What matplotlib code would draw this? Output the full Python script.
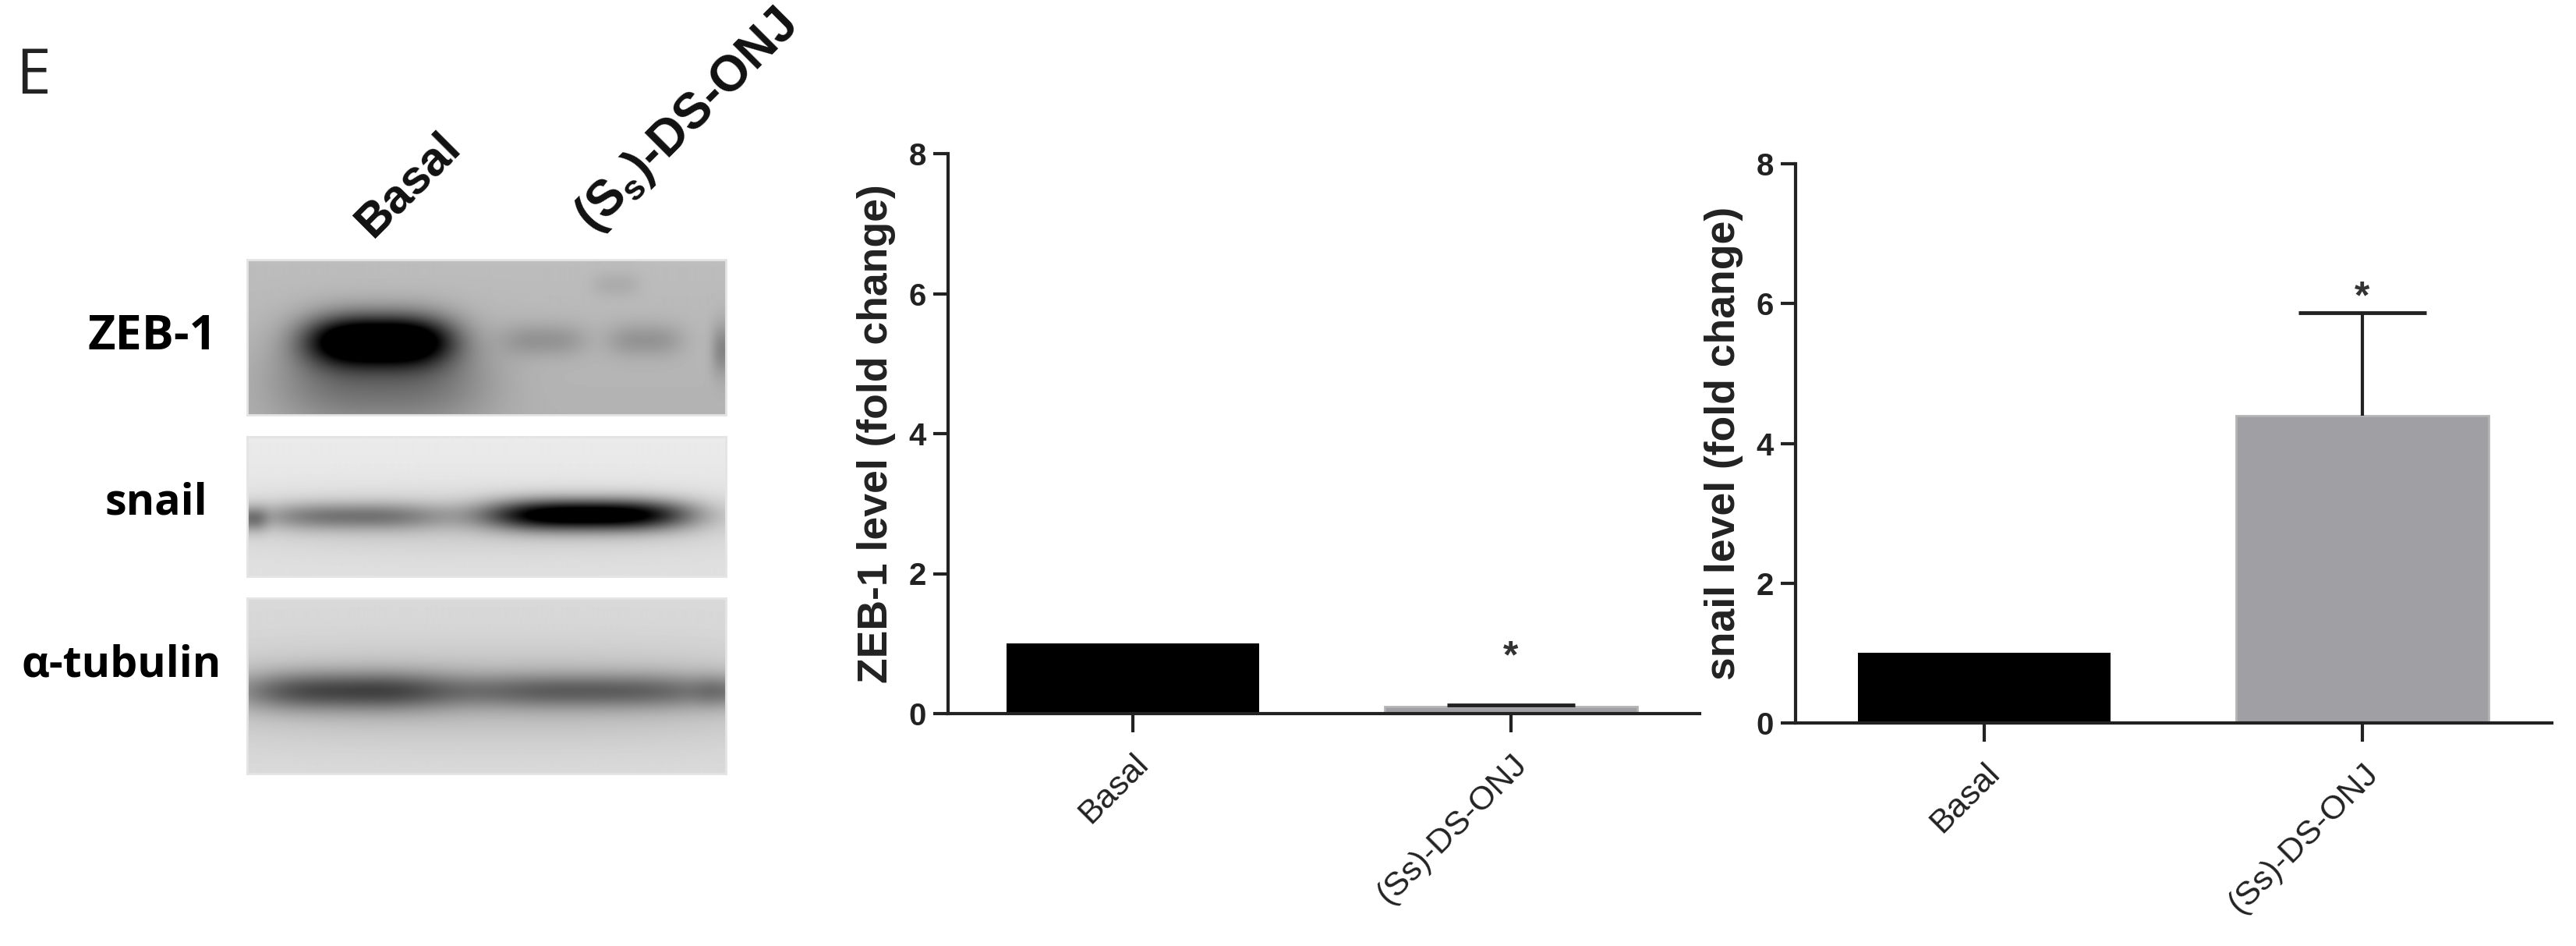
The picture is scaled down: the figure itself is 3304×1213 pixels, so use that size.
import numpy as np
import matplotlib
matplotlib.use('Agg')
import matplotlib.pyplot as plt

W, H = 3304, 1213

groups = ['Basal', '(Ss)-DS-ONJ']
yticks = [0, 2, 4, 6, 8]

zeb_vals = [1.0, 0.1]
zeb_err = [0, 0.02]
snail_vals = [1.0, 4.4]
snail_err = [0, 1.47]

# blot bands: x, y, half width, half height, darkness (fractions of the panel)
zeb_bands = [(0.275, 0.52, 0.15, 0.16, 1.0), (0.28, 0.78, 0.22, 0.3, 0.28),
             (0.62, 0.52, 0.09, 0.11, 0.14), (0.83, 0.52, 0.08, 0.11, 0.14),
             (0.77, 0.16, 0.05, 0.08, 0.06), (1.0, 0.58, 0.03, 0.17, 0.2)]
snail_bands = [(0.22, 0.57, 0.2, 0.1, 0.36), (0.71, 0.56, 0.21, 0.11, 1.0),
               (0.5, 0.62, 0.6, 0.22, 0.1), (0.0, 0.59, 0.04, 0.09, 0.3)]
tub_bands = [(0.2, 0.53, 0.22, 0.11, 0.46), (0.72, 0.53, 0.32, 0.1, 0.36),
             (0.5, 0.56, 0.7, 0.26, 0.14), (1.0, 0.53, 0.06, 0.09, 0.12)]

plt.rcParams['font.family'] = ['Liberation Sans', 'DejaVu Sans']
plt.rcParams['mathtext.fontset'] = 'custom'
plt.rcParams['mathtext.rm'] = 'Liberation Sans:bold'

fig = plt.figure(figsize=(W / 100, H / 100), dpi=100)


def px_axes(x0, y0, x1, y1):
    return fig.add_axes([x0 / W, 1 - y1 / H, (x1 - x0) / W, (y1 - y0) / H])


def blot(box, bands, bg_top, bg_bottom):
    x0, y0, x1, y1 = box
    ax = px_axes(x0, y0, x1, y1)
    xx, yy = np.meshgrid(np.linspace(0, 1, x1 - x0), np.linspace(0, 1, y1 - y0))
    img = bg_top + (bg_bottom - bg_top) * yy
    for bx, by, bw, bh, amp in bands:
        img = img - amp * np.exp(-np.abs((xx - bx) / bw) ** 3 - np.abs((yy - by) / bh) ** 2)
    ax.imshow(np.clip(img, 0, 1), cmap='gray', vmin=0, vmax=1, aspect='auto')
    ax.set_xticks([])
    ax.set_yticks([])
    for s in ax.spines.values():
        s.set_color('#e4e4e4')
        s.set_linewidth(2)


blot((317, 333, 931, 532), zeb_bands, 0.74, 0.70)
blot((317, 560, 931, 739), snail_bands, 0.92, 0.88)
blot((317, 767, 931, 992), tub_bands, 0.85, 0.86)


def bars(box, vals, err, xlim, ylabel, star_y):
    ax = px_axes(*box)
    ax.bar([0], vals[0], width=0.667, color='black', zorder=2)
    ax.bar([1], vals[1], width=0.667, color='#a09fa3', edgecolor='#b4b4b6', linewidth=2, zorder=2)
    eb = ax.errorbar([1], [vals[1]], yerr=[[0], [err[1]]], color='#222222', elinewidth=3,
                     capsize=59, capthick=3.5, zorder=3)
    eb[1][0].set_visible(False)
    ax.set_xlim(*xlim)
    ax.set_ylim(0, 8)
    ax.set_yticks(yticks)
    ax.set_xticks([0, 1])
    ax.set_xticklabels(groups, rotation=45, ha='right', rotation_mode='anchor',
                       fontsize=31, color='#222222')
    ax.tick_params(axis='y', length=14, width=3, labelsize=29, pad=6, colors='#222222')
    ax.tick_params(axis='x', length=17, width=3, pad=15, colors='#222222')
    for lab in ax.get_yticklabels():
        lab.set_fontweight('bold')
    ax.spines['top'].set_visible(False)
    ax.spines['right'].set_visible(False)
    ax.spines['left'].set_linewidth(3)
    ax.spines['bottom'].set_linewidth(3)
    ax.spines['left'].set_color('#222222')
    ax.spines['bottom'].set_color('#222222')
    ax.set_ylabel(ylabel, fontsize=38.5, fontweight='bold', color='#222222', labelpad=12)
    ax.patch.set_alpha(0)
    ax.text(1, star_y, '*', ha='center', va='center', fontsize=36, fontweight='bold', color='#333333')
    return ax


bars((1216, 197, 2180, 915), zeb_vals, zeb_err, (-0.489, 1.499), 'ZEB-1 level (fold change)', 0.8)
bars((2303, 210, 3273, 927), snail_vals, snail_err, (-0.499, 1.501), 'snail level (fold change)', 6.08)

# blot labels
fig.text(20 / W, 1 - 120 / H, 'E', fontsize=58, family='Open Sans', color='#222222')
for txt, x, y, size in [('ZEB-1', 278, 432, 44), ('snail', 266, 645, 40), ('α-tubulin', 284, 853, 40)]:
    fig.text(x / W, 1 - y / H, txt, fontsize=size, family='Open Sans', fontweight='bold',
             ha='right', va='center', color='black')
fig.text(487 / W, 1 - 315 / H, 'Basal', fontsize=44, fontweight='bold', rotation=45,
         ha='left', va='bottom', rotation_mode='anchor', color='#111111')
fig.text(772 / W, 1 - 310 / H, r'(S$_{\mathrm{s}}$)-DS-ONJ', fontsize=46, fontweight='bold', rotation=45,
         ha='left', va='bottom', rotation_mode='anchor', color='#111111')

fig.savefig('out.png', dpi=100)
